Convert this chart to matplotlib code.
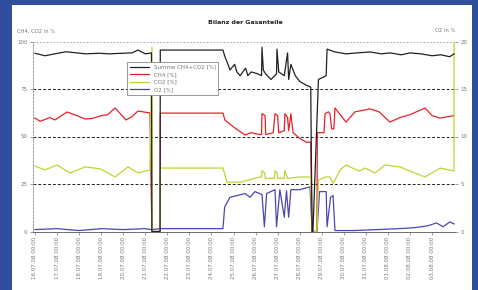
import numpy as np
import matplotlib.pyplot as plt
from matplotlib.patches import Rectangle

# days since 16.07.08 00:00
sum_t = [0.0, 0.45, 0.9, 1.4, 1.9, 2.3, 2.9, 3.4, 3.9, 4.4, 4.67, 5.0, 5.28,
         5.30, 5.67, 5.68, 8.52, 8.61, 8.75, 8.84, 9.05, 9.15, 9.3, 9.55, 9.65, 9.8,
         10.1, 10.27, 10.29, 10.35, 10.45, 10.7, 10.95, 10.97, 11.05, 11.3, 11.45,
         11.5, 11.6, 11.8, 12.0, 12.3, 12.5, 12.56, 12.6, 12.85, 13.2, 13.24, 13.6,
         14.1, 14.6, 15.2, 15.7, 16.1, 16.6, 17.0, 17.5, 18.0, 18.4, 18.8, 19.0]
sum_v = [93.8, 92.5, 93.5, 94.6, 94.0, 93.5, 93.8, 93.5, 93.8, 94.0, 95.5, 93.5, 94.0,
         0, 0, 95.5, 95.5, 92.0, 88.0, 85.0, 88.0, 84.0, 82.0, 86.0, 82.0, 84.0,
         83.0, 82.0, 97.0, 85.0, 83.0, 80.0, 83.0, 96.0, 84.0, 82.0, 94.0,
         80.0, 88.0, 82.0, 79.0, 77.0, 76.0, 0, 0, 80.0, 82.0, 96.0, 94.5,
         93.5, 94.0, 94.5, 93.5, 94.0, 93.0, 94.0, 93.5, 92.5, 93.0, 92.0, 93.5]

ch4_t = [0.0, 0.23, 0.68, 0.91, 1.45, 1.9, 2.27, 2.6, 2.95, 3.3, 3.63, 4.13, 4.4, 4.67,
         5.21, 5.30, 5.67, 5.68, 8.52, 8.61, 9.0, 9.52, 9.8, 10.2, 10.27, 10.29,
         10.43, 10.46, 10.8, 10.88, 11.0, 11.05, 11.3, 11.33, 11.45, 11.5, 11.6,
         11.7, 12.0, 12.3, 12.5, 12.56, 12.78, 12.8, 13.1, 13.15, 13.3, 13.37,
         13.45, 13.55, 13.6, 14.1, 14.51, 15.19, 15.6, 16.09, 16.55, 17.0, 17.68,
         18.0, 18.36, 19.0]
ch4_v = [59.7, 58.0, 60.0, 58.7, 62.9, 61.0, 59.2, 59.5, 60.8, 61.5, 65.0, 58.7, 60.5, 63.4,
         62.4, 0, 0, 62.3, 62.3, 58.7, 55.0, 50.8, 52.0, 51.0, 51.0, 62.0,
         61.0, 51.0, 52.0, 62.0, 61.0, 52.0, 53.0, 62.0, 60.0, 53.0, 62.0,
         52.0, 49.0, 47.0, 47.0, 0, 0, 52.0, 52.0, 62.0, 63.0, 62.0,
         54.0, 54.0, 65.0, 57.6, 63.0, 64.5, 63.0, 57.6, 60.0, 61.5, 65.0,
         61.0, 59.7, 61.0]

co2_t = [0.0, 0.45, 1.0, 1.59, 2.27, 2.95, 3.63, 4.22, 4.67, 5.21, 5.30, 5.31, 5.67,
         5.68, 8.52, 8.7, 9.3, 10.2, 10.27, 10.29, 10.4, 10.45, 10.85, 10.88, 10.97,
         11.0, 11.3, 11.33, 11.45, 12.0, 12.5, 12.56, 12.78, 12.85, 13.15, 13.37,
         13.5, 13.55, 13.83, 14.1, 14.69, 14.96, 15.42, 15.87, 16.55, 17.0, 17.68,
         18.36, 18.99, 19.0]
co2_v = [34.4, 32.4, 35.0, 30.8, 34.0, 33.0, 28.7, 34.0, 30.8, 32.4, 97.0, 0, 0,
         33.4, 33.4, 26.0, 26.0, 28.7, 28.7, 32.0, 31.0, 28.0, 28.0, 32.0, 31.0,
         28.0, 28.0, 32.0, 28.0, 28.7, 28.7, 0, 0, 27.0, 28.7, 28.7,
         25.5, 26.0, 32.4, 35.0, 31.8, 33.4, 30.8, 35.0, 34.0, 31.8, 28.7,
         33.4, 31.8, 100.0]

o2_t = [0.0, 1.0, 2.0, 3.0, 4.0, 5.0, 5.28, 5.68, 8.52, 8.6, 8.84, 9.2, 9.52, 9.75,
        9.97, 10.29, 10.4, 10.5, 10.88, 10.95, 11.1, 11.3, 11.4, 11.5, 11.6,
        12.0, 12.47, 12.56, 12.78, 12.9, 13.2, 13.24, 13.4, 13.51, 13.6, 14.5,
        15.5, 16.5, 17.2, 17.8, 18.2, 18.5, 18.8, 19.0]
o2_v = [0.2, 0.3, 0.1, 0.3, 0.2, 0.3, 0.2, 0.3, 0.3, 2.6, 3.6, 3.8, 4.0, 3.6,
        4.2, 3.9, 0.5, 4.0, 4.4, 0.5, 4.4, 1.5, 4.3, 1.5, 4.4,
        4.4, 4.7, 0, 0, 4.2, 4.2, 0.5, 3.6, 3.8, 0.1, 0.1,
        0.2, 0.3, 0.4, 0.6, 0.9, 0.5, 1.0, 0.8]

tick_labels = ["16.07.08 00:00", "17.07.08 00:00", "18.07.08 00:00", "19.07.08 00:00",
               "20.07.08 00:00", "21.07.08 00:00", "22.07.08 00:00", "23.07.08 00:00",
               "24.07.08 00:00", "25.07.08 00:00", "26.07.08 00:00", "27.07.08 00:00",
               "28.07.08 00:00", "29.07.08 00:00", "30.07.08 00:00", "31.07.08 00:00",
               "01.08.08 00:00", "02.08.08 00:00", "03.08.08 00:00"]

fig = plt.figure(figsize=(4.78, 2.90), dpi=100, facecolor="#2f4f9e")
fig.patches.append(Rectangle((12 / 478, 0), 460 / 478, 1 - 5 / 290,
                             transform=fig.transFigure, facecolor="white",
                             edgecolor="none", zorder=-5))

ax = fig.add_axes([33 / 478, 1 - 231.5 / 290, 422 / 478, 190 / 290])
ax2 = ax.twinx()

l_ch4, = ax.plot(ch4_t, ch4_v, color="#e82028", lw=0.9, zorder=3)
l_co2, = ax.plot(co2_t, co2_v, color="#b8d830", lw=0.9, zorder=3)
l_sum, = ax.plot(sum_t, sum_v, color="#222222", lw=0.9, zorder=4)
l_o2, = ax2.plot(o2_t, o2_v, color="#4a48b0", lw=0.9)

ax.set_xlim(-0.09, 19.04)
ax.set_ylim(0, 100)
ax2.set_ylim(0, 20)
ax.set_yticks([0, 25, 50, 75, 100])
ax2.set_yticks([0, 5, 10, 15, 20])
ax.set_xticks(range(len(tick_labels)))
ax.set_xticklabels(tick_labels, rotation=90)

for a in (ax, ax2):
    for s in a.spines.values():
        s.set_visible(False)
    a.tick_params(labelsize=4, colors="#777777", length=2, width=0.5, pad=2)
    a.patch.set_visible(False)
ax.spines["left"].set_visible(True)
ax.spines["left"].set_linestyle((0, (2, 2)))
ax.spines["left"].set_color("#888888")
ax.spines["left"].set_linewidth(0.6)
ax.spines["bottom"].set_visible(True)
ax.spines["bottom"].set_color("#555555")
ax.spines["bottom"].set_linewidth(0.6)

for v in [25, 50, 75]:
    ax.axhline(v, color="#222222", lw=0.7, ls=(0, (3, 2)), zorder=1)
ax.axhline(100, color="#999999", lw=0.6, ls=(0, (2, 2)), zorder=1)

fig.text(245 / 478, 1 - 23 / 290, "Bilanz der Gasanteile", ha="center", va="center",
         fontsize=4.5, fontweight="bold", color="#222222")
fig.text(17 / 478, 1 - 31 / 290, "CH4, CO2 in %", ha="left", va="center",
         fontsize=3.8, color="#777777")
fig.text(455 / 478, 1 - 31 / 290, "O2 in %", ha="right", va="center",
         fontsize=3.8, color="#777777")

leg = ax.legend(handles=[l_sum, l_ch4, l_co2, l_o2],
                labels=["Summe CH4+CO2 [%]", "CH4 [%]", "CO2 [%]", "O2 [%]"],
                loc="upper left", bbox_to_anchor=((127 - 33) / 422, (231.5 - 62) / 190),
                fontsize=4, frameon=True, fancybox=False, handlelength=3.5,
                borderpad=0.5, labelspacing=0.45, borderaxespad=0, framealpha=1,
                edgecolor="#888888")
leg.get_frame().set_linewidth(0.6)
for t in leg.get_texts():
    t.set_color("#777777")
leg.set_zorder(10)
ax.set_zorder(ax2.get_zorder() + 1)

fig.savefig("out.png", dpi=100, facecolor=fig.get_facecolor())
